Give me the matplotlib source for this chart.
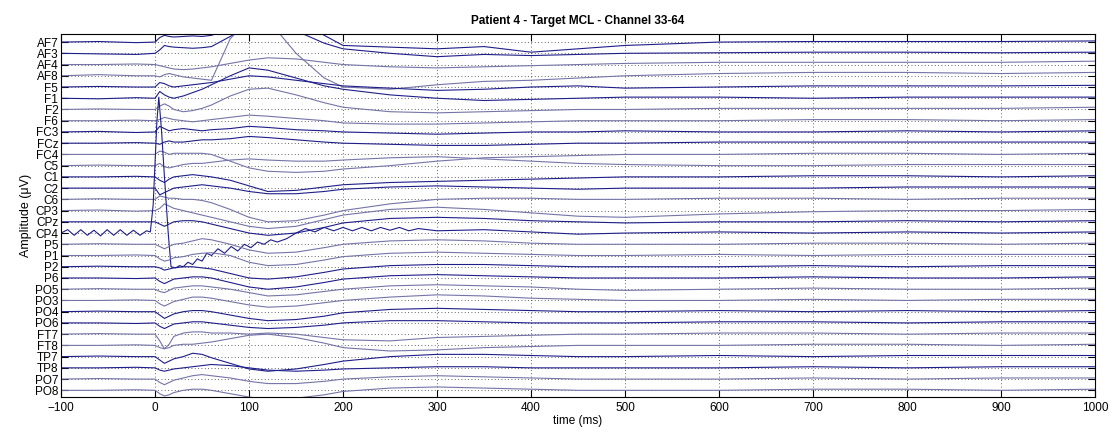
import matplotlib
matplotlib.use("Agg")
import matplotlib.pyplot as plt
import numpy as np

plt.rcParams['font.family'] = ['Liberation Sans', 'DejaVu Sans']

# channel names, top to bottom
channels = ['AF7', 'AF3', 'AF4', 'AF8', 'F5', 'F1', 'F2', 'F6', 'FC3', 'FCz',
            'FC4', 'C5', 'C1', 'C2', 'C6', 'CP3', 'CPz', 'CP4', 'P5', 'P1',
            'P2', 'P6', 'PO5', 'PO3', 'PO4', 'PO6', 'FT7', 'FT8', 'TP7', 'TP8',
            'PO7', 'PO8']

# sample times (ms) shared by most channels
t = [-100, -60, -20, 0, 5, 10, 15, 20, 30, 40, 50, 60, 80, 100, 120, 150,
     180, 200, 250, 300, 350, 400, 450, 500, 600, 700, 800, 900, 1000]

# amplitudes, in units of channel spacing (positive = up)
af7 = [0, 0.05, -0.05, 0, 0.4, 0.6, 0.5, 0.45, 0.5, 0.55, 0.5, 0.6, 1.2, 2.5, 3.0, 2.2, 0.6, -0.3, -0.45, -0.6, -0.4, -0.9, -0.6, -0.3, 0.0, 0.05, 0.05, 0.05, 0.1]
af3 = [0, -0.05, -0.1, 0, 0.3, 0.7, 0.6, 0.55, 0.5, 0.45, 0.5, 0.6, 1.5, 2.5, 2.6, 2.0, 0.9, 0.4, 0.0, -0.3, -0.1, -0.2, -0.1, 0.0, 0.05, 0.1, 0.1, 0.05, 0.1]
af4 = [0, 0, 0.05, 0, -0.1, -0.2, -0.3, -0.4, -0.45, -0.4, -0.3, -0.2, 0.1, 0.4, 0.6, 0.5, 0.2, 0.0, -0.2, -0.3, -0.2, -0.1, 0.0, 0.1, 0.2, 0.2, 0.2, 0.2, 0.3]
af8 = [0, 0.1, 0, 0, -0.1, 0.1, 0.2, 0.1, -0.1, -0.2, -0.3, -0.4, 3.3, 5.0, 5.0, 2.0, -0.2, -1.0, -1.2, -0.8, -0.5, -0.4, -0.2, 0.0, 0.2, 0.3, 0.3, 0.2, 0.3]
f5 = [0, 0.05, 0, 0, 0.4, 0.3, 0.1, 0.0, 0.1, 0.2, 0.3, 0.4, 0.7, 1.0, 0.9, 0.6, 0.3, 0.1, -0.1, -0.3, -0.2, 0.0, 0.1, -0.1, 0.0, 0.1, 0.1, 0.1, 0.15]
f1 = [0, -0.05, 0.05, 0, 0.6, 0.3, 0.1, 0.0, 0.2, 0.5, 0.8, 1.2, 2.0, 2.7, 2.5, 1.8, 1.1, 0.8, 0.3, 0.0, -0.2, -0.1, 0.0, 0.1, 0.1, 0.0, 0.1, 0.1, 0.1]
f2 = [0, 0.05, 0, 0, 0.3, 0.5, 0.3, 0.0, -0.2, -0.1, 0.1, 0.4, 1.2, 1.8, 1.9, 1.3, 0.6, 0.2, -0.2, -0.3, -0.2, -0.1, 0.0, 0.0, 0.1, 0.1, 0.1, 0.1, 0.2]
f6 = [0, 0, 0.05, 0, 0.1, 0.3, 0.2, 0.1, 0.0, -0.1, 0.0, 0.1, 0.3, 0.5, 0.4, 0.2, 0.0, -0.2, -0.3, -0.3, -0.2, -0.1, 0.0, 0.0, 0.0, 0.1, 0.1, 0.0, 0.1]
fc3 = [0, 0.05, -0.05, 0, 0.5, 0.3, 0.1, 0.2, 0.3, 0.2, 0.1, 0.2, 0.3, 0.5, 0.4, 0.2, 0.1, 0.0, -0.1, -0.2, -0.1, 0.0, 0.0, 0.1, 0.0, 0.0, 0.1, 0.0, 0.1]
fcz = [0, 0, 0.05, 0, -0.1, 0.1, 0.2, 0.1, 0.1, 0.2, 0.3, 0.3, 0.4, 0.6, 0.5, 0.3, 0.1, 0.0, -0.1, -0.2, -0.2, -0.1, 0.0, 0.0, 0.1, 0.1, 0.1, 0.1, 0.1]
fc4 = [0, 0, 0, 0, 0.3, 0.2, 0.0, 0.1, 0.1, 0.1, 0.1, 0.0, -0.6, -1.2, -1.5, -1.6, -1.5, -1.3, -1.0, -0.6, -0.3, -0.2, -0.1, 0.0, 0.0, 0.1, 0.1, 0.0, 0.1]
c5 = [0, 0.05, 0, 0, 0.2, -0.1, -0.2, -0.1, 0.1, 0.2, 0.2, 0.3, 0.5, 0.6, 0.5, 0.4, 0.4, 0.5, 0.7, 0.8, 0.6, 0.4, 0.2, 0.1, 0.0, 0.0, 0.1, 0.1, 0.1]
c1 = [0, 0, 0.05, 0, -0.3, -0.5, -0.2, 0.0, 0.1, 0.2, 0.1, 0.0, -0.3, -0.8, -1.3, -1.2, -0.9, -0.7, -0.5, -0.4, -0.3, -0.2, -0.1, 0.0, 0.0, 0.1, 0.1, 0.0, 0.1]
c2 = [0, 0, 0, 0, -0.6, -0.4, -0.2, 0.0, 0.1, 0.2, 0.3, 0.2, 0.0, -0.3, -0.5, -0.5, -0.3, -0.1, 0.1, 0.2, 0.1, 0.0, -0.1, 0.0, 0.0, 0.0, 0.1, 0.1, 0.1]
c6 = [0, 0.05, 0, 0, 0.3, 0.2, 0.1, 0.1, 0.0, 0.0, -0.1, -0.3, -0.9, -1.6, -2.0, -1.9, -1.4, -1.0, -0.4, 0.0, 0.1, 0.1, 0.0, 0.0, 0.1, 0.1, 0.0, 0.1, 0.1]
cp3 = [0, 0.05, -0.05, 0, 0.2, 0.6, 0.4, 0.2, 0.0, -0.2, -0.4, -0.6, -1.0, -1.4, -1.6, -1.4, -0.8, -0.4, 0.1, 0.3, 0.1, -0.2, -0.5, -0.6, -0.3, -0.1, 0.0, 0.0, 0.1]
cpz = [0, 0, 0, 0, -0.2, -0.4, -0.2, 0.0, 0.1, 0.1, 0.0, -0.2, -0.6, -1.0, -1.2, -1.0, -0.5, -0.1, 0.3, 0.4, 0.3, 0.1, 0.0, -0.1, 0.0, 0.0, 0.1, 0.0, 0.1]
p5 = [0, 0.05, 0, 0, -0.2, -0.4, -0.2, 0.0, 0.1, 0.3, 0.5, 0.4, 0.0, -0.5, -0.8, -0.7, -0.3, 0.0, 0.3, 0.4, 0.3, 0.1, 0.0, 0.0, 0.0, 0.1, 0.1, 0.0, 0.1]
p1 = [0, 0, 0.05, 0, -0.3, -0.5, -0.4, -0.2, -0.1, 0.1, 0.2, 0.25, 0.0, -0.6, -0.9, -0.8, -0.4, -0.1, 0.2, 0.3, 0.2, 0.1, 0.0, 0.0, 0.1, 0.0, 0.1, 0.1, 0.1]
p2 = [0, 0.05, 0, 0, -0.1, -0.3, -0.2, -0.1, 0.0, 0.0, -0.1, -0.2, -0.6, -1.0, -1.1, -0.9, -0.5, -0.2, 0.1, 0.2, 0.2, 0.1, 0.0, 0.0, 0.0, 0.1, 0.0, 0.1, 0.1]
p6 = [0, 0, -0.05, 0, -0.3, -0.5, -0.3, -0.1, 0.0, 0.1, 0.1, 0.0, -0.4, -0.8, -1.0, -0.8, -0.4, -0.1, 0.2, 0.3, 0.2, 0.1, 0.0, 0.0, 0.0, 0.1, 0.0, 0.0, 0.1]
po5 = [0, 0.05, 0, 0, -0.2, -0.3, -0.1, 0.1, 0.2, 0.3, 0.3, 0.2, 0.0, -0.3, -0.6, -0.5, -0.2, 0.0, 0.3, 0.4, 0.3, 0.2, 0.0, -0.1, 0.0, 0.1, 0.0, 0.0, 0.1]
po3 = [0, 0, 0.05, 0, -0.3, -0.5, -0.3, -0.1, 0.1, 0.3, 0.3, 0.2, -0.1, -0.4, -0.6, -0.5, -0.2, 0.0, 0.3, 0.5, 0.4, 0.2, 0.1, 0.0, 0.0, 0.1, 0.0, 0.1, 0.1]
po4 = [0, 0.05, 0, 0, -0.3, -0.6, -0.4, -0.2, 0.0, 0.1, 0.1, 0.0, -0.3, -0.6, -0.8, -0.7, -0.4, -0.1, 0.2, 0.3, 0.2, 0.1, 0.0, 0.0, 0.1, 0.0, 0.1, 0.0, 0.1]
po6 = [0, 0, -0.05, 0, -0.3, -0.5, -0.3, -0.1, 0.0, 0.1, 0.1, 0.0, -0.2, -0.4, -0.5, -0.4, -0.2, 0.0, 0.2, 0.2, 0.1, 0.0, 0.0, 0.0, 0.1, 0.1, 0.0, 0.1, 0.1]
ft7 = [0, 0.05, 0, 0, -0.6, -1.3, -0.9, -0.2, 0.1, 0.2, 0.2, 0.1, 0.1, 0.0, 0.1, 0.0, -0.3, -0.5, -0.6, -0.3, -0.2, -0.1, 0.0, 0.0, 0.1, 0.1, 0.0, 0.1, 0.1]
ft8 = [0, 0, 0.05, 0, -0.2, -0.3, -0.2, 0.0, 0.1, 0.1, 0.2, 0.3, 0.6, 0.9, 1.0, 0.7, 0.2, -0.2, -0.5, -0.4, -0.2, -0.1, 0.0, 0.0, 0.0, 0.1, 0.1, 0.0, 0.1]
tp7 = [0, 0.05, 0, 0, -0.3, -0.6, -0.4, -0.2, 0.0, 0.3, 0.2, -0.1, -0.6, -1.1, -1.3, -1.1, -0.7, -0.4, 0.0, 0.2, 0.2, 0.1, 0.0, 0.0, 0.1, 0.0, 0.1, 0.1, 0.1]
tp8 = [0, 0, 0.05, 0, -0.2, -0.3, -0.2, -0.1, 0.0, 0.1, 0.2, 0.3, 0.2, 0.0, -0.2, -0.3, -0.2, -0.1, 0.0, 0.1, 0.1, 0.0, 0.0, 0.0, 0.0, 0.1, 0.0, 0.1, 0.1]
po7 = [0, 0.05, 0, 0, -0.3, -0.5, -0.3, -0.1, 0.1, 0.3, 0.4, 0.3, 0.1, -0.2, -0.4, -0.4, -0.2, 0.0, 0.2, 0.3, 0.2, 0.1, 0.0, 0.0, 0.0, 0.1, 0.0, 0.1, 0.1]
po8 = [0, 0, 0.05, 0, -0.3, -0.5, -0.4, -0.2, 0.0, 0.1, 0.1, 0.0, -0.3, -0.6, -0.8, -0.7, -0.4, -0.1, 0.2, 0.3, 0.2, 0.1, 0.0, 0.0, 0.0, 0.1, 0.1, 0.0, 0.1]

# CP4 has its own samples: ripple before stimulus, big spike at ~4 ms
cp4_t = [-100, -93, -86, -79, -72, -65, -58, -51, -44, -37, -30, -23, -16,
         -9, -5, -2, 2, 4, 7, 10, 14, 17, 22, 26, 30, 35, 40, 45, 50, 55, 60,
         67, 74, 81, 88, 95, 102, 109, 116, 123, 130, 140, 150, 160, 170, 180,
         190, 200, 210, 220, 230, 240, 250, 260, 270, 280, 300, 350, 400, 450,
         500, 600, 700, 800, 900, 1000]
cp4 = [0.0, 0.3, -0.2, 0.3, -0.2, 0.25, -0.25, 0.3, -0.2, 0.3, -0.2, 0.25,
       -0.2, 0.2, 0.1, 2.5, 10.0, 12.1, 9.0, 5.0, 0.0, -3.0, -3.1, -2.9, -3.0,
       -2.6, -2.8, -2.3, -2.5, -1.8, -2.0, -1.4, -1.8, -1.2, -1.6, -1.0, -1.3,
       -0.8, -1.0, -0.6, -0.8, -0.5, 0.0, 0.4, 0.1, 0.5, 0.2, 0.5, 0.2, 0.5,
       0.2, 0.5, 0.25, 0.5, 0.2, 0.4, 0.2, 0.3, 0.1, -0.1, 0.0, 0.1, 0.0, 0.1,
       0.0, 0.1]

traces = [af7, af3, af4, af8, f5, f1, f2, f6, fc3, fcz, fc4, c5, c1, c2, c6,
          cp3, cpz, None, p5, p1, p2, p6, po5, po3, po4, po6, ft7, ft8, tp7,
          tp8, po7, po8]

dark = '#1e1e8a'
light = '#7474a8'

fig = plt.figure(figsize=(11.1, 4.33), dpi=100)
ax = fig.add_axes([0.055, 0.083, 0.9315, 0.8385])

for i, name in enumerate(channels):
    col = dark if i % 4 < 2 else light
    if name == 'CP4':
        ax.plot(cp4_t, np.array(cp4) - i, color=dark, lw=0.8)
    else:
        ax.plot(t, np.array(traces[i]) - i, color=col, lw=0.8)

ax.set_xlim(-100, 1000)
ax.set_ylim(-31.6, 0.72)
ax.set_xticks(range(-100, 1001, 100))
ax.set_yticks([-i for i in range(len(channels))])
ax.set_yticklabels(channels, fontsize=8.5)
ax.tick_params(axis='x', labelsize=8.5, direction='in', top=True, length=5)
ax.tick_params(axis='y', direction='in', right=True, length=5, pad=2)
ax.grid(True, color='#333333', linestyle=(0, (1, 3)), linewidth=0.6)
for s in ax.spines.values():
    s.set_linewidth(0.8)

ax.set_title('Patient 4 - Target MCL - Channel 33-64', fontsize=8.5,
             fontweight='bold', pad=7)
ax.set_xlabel('time (ms)', fontsize=8.5, labelpad=1)
ax.set_ylabel('Amplitude (\u03bcV)', fontsize=9, labelpad=2)

fig.savefig('out.png', dpi=100)
